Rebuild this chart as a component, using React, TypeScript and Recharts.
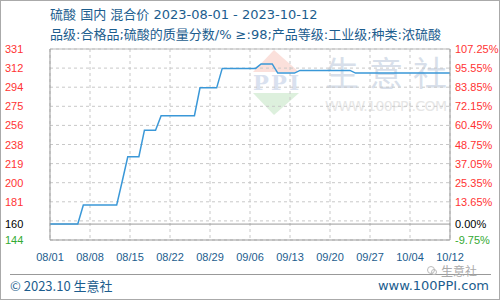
import React from 'react';
import { LineChart, Line, XAxis, YAxis, CartesianGrid, ReferenceLine } from 'recharts';

// day index from 2023-08-01 (0) to 2023-10-12 (72)
const prices = [
  160, 160, 160, 160, 160, 160,
  178.6, 178.6, 178.6, 178.6, 178.6, 178.6, 178.6,
  202,
  226, 226, 226,
  252, 252, 252,
  266.3, 266.3, 266.3, 266.3, 266.3, 266.3, 266.3,
  293.5, 293.5, 293.5, 293.5,
  312.6, 312.6, 312.6, 312.6, 312.6, 312.6, 312.6,
  317, 317, 317,
  308, 308, 308, 308,
  310.6, 310.6, 310.6, 310.6, 310.6, 310.6, 310.6, 310.6, 310.6, 310.6,
  308, 308, 308, 308, 308, 308, 308, 308, 308, 308, 308, 308, 308, 308, 308, 308, 308, 308,
];

const xTickDays = [0, 7.2, 14.4, 21.6, 28.8, 36, 43.2, 50.4, 57.6, 64.8, 72];
const xTickLabels = ['08/01', '08/08', '08/15', '08/22', '08/29', '09/06', '09/13', '09/20', '09/27', '10/04', '10/12'];

const yTicks = [144.4, 163.12, 181.84, 200.56, 219.28, 238, 256.72, 275.44, 294.16, 312.88, 331.6];
const leftTickLabels = ['144', '', '181', '200', '219', '238', '256', '275', '294', '312', '331'];
const rightTickLabels = ['-9.75%', '', '13.65%', '25.35%', '37.05%', '48.75%', '60.45%', '72.15%', '83.85%', '95.55%', '107.25%'];

const baseValue = 160;
const baseLabels = ['160', '0.00%'];

const data = prices.map((price, day) => ({ day, price }));

const BLUE = '#1c5d8e';
const tickFont = '"Liberation Sans", Arial, sans-serif';
const titleFont = '"DejaVu Sans", "Noto Sans CJK SC", sans-serif';

function labelColor(i: number) {
  return i === 0 ? '#33aa33' : '#ff3333';
}

function XTick(props: any) {
  const i = xTickDays.indexOf(props.payload.value);
  return (
    <text x={props.x} y={261} textAnchor="middle" fontSize={11} fontFamily={tickFont} fill={BLUE}>
      {xTickLabels[i]}
    </text>
  );
}

function LeftTick(props: any) {
  const i = yTicks.indexOf(props.payload.value);
  return (
    <text x={5} y={props.y + 4} textAnchor="start" fontSize={11} fontFamily={tickFont} fill={labelColor(i)}>
      {leftTickLabels[i]}
    </text>
  );
}

function RightTick(props: any) {
  const i = yTicks.indexOf(props.payload.value);
  return (
    <text x={455} y={props.y + 4} textAnchor="start" fontSize={11} fontFamily={tickFont} fill={labelColor(i)}>
      {rightTickLabels[i]}
    </text>
  );
}

function BaseLabel(props: any) {
  const y = props.viewBox.y + 4;
  return (
    <g>
      <text x={5} y={y} fontSize={11} fontFamily={tickFont} fill="#000">{baseLabels[0]}</text>
      <text x={455} y={y} fontSize={11} fontFamily={tickFont} fill="#000">{baseLabels[1]}</text>
    </g>
  );
}

function Watermark() {
  return (
    <svg width={500} height={300} style={{ position: 'absolute', left: 0, top: 0 }}>
      <polygon points="274,50 253,72 299,72" fill="#fbe0db" />
      <text x={276} y={90} textAnchor="middle" fontSize={21} fontWeight="bold" fontFamily="DejaVu Serif" fill="#d9e1ef" textLength={46}>PPI</text>
      <polygon points="253,93 299,93 274,115" fill="#ddf0dd" />
      <text x={325} y={86} fontSize={34} letterSpacing={10} fontFamily='"Noto Sans CJK SC"' fill="#d8dfea">生意社</text>
      <text x={325} y={111} fontSize={14} fontFamily='"DejaVu Sans"' fill="#e6e6e6" textLength={122}>WWW.100PPI.COM</text>
    </svg>
  );
}

export default function App() {
  return (
    <div style={{ position: 'absolute', left: 0, top: 0, width: 500, height: 300, background: '#fff', overflow: 'hidden' }}>
      <Watermark />
      <div style={{ position: 'absolute', left: 0, top: 0 }}>
        <LineChart width={500} height={300} data={data} margin={{ top: 49, right: 0, left: 0, bottom: 40 }}>
          <CartesianGrid yAxisId="l" stroke="#c8c8c8" strokeDasharray="3 3" />
          <XAxis
            dataKey="day"
            type="number"
            domain={[0, 72]}
            ticks={xTickDays}
            height={20}
            tick={<XTick />}
            tickLine={false}
            axisLine={{ stroke: '#999' }}
            interval={0}
          />
          <YAxis
            yAxisId="l"
            type="number"
            domain={[144.4, 331.6]}
            ticks={yTicks}
            width={50}
            tick={<LeftTick />}
            tickLine={false}
            axisLine={{ stroke: '#999' }}
            interval={0}
            allowDataOverflow
          />
          <YAxis
            yAxisId="r"
            orientation="right"
            type="number"
            domain={[144.4, 331.6]}
            ticks={yTicks}
            width={50}
            tick={<RightTick />}
            tickLine={false}
            axisLine={{ stroke: '#999' }}
            interval={0}
            allowDataOverflow
          />
          <ReferenceLine yAxisId="l" y={331.6} stroke="#bbb" />
          <ReferenceLine yAxisId="l" y={baseValue} stroke="#999" label={<BaseLabel />} />
          <Line
            yAxisId="l"
            type="linear"
            dataKey="price"
            stroke="#3a98d8"
            strokeWidth={1.5}
            dot={false}
            isAnimationActive={false}
          />
        </LineChart>
      </div>
      <div style={{ position: 'absolute', left: 50, top: 6, fontSize: 13, lineHeight: '18px', color: BLUE, fontFamily: titleFont, whiteSpace: 'nowrap' }}>
        硫酸 国内 混合价 2023-08-01 - 2023-10-12
      </div>
      <div style={{ position: 'absolute', left: 50, top: 26, fontSize: 13, lineHeight: '18px', color: BLUE, fontFamily: titleFont, whiteSpace: 'nowrap' }}>
        品级:合格品;硫酸的质量分数/% ≥:98;产品等级:工业级;种类:浓硫酸
      </div>
      <div style={{ position: 'absolute', left: 10, top: 274, width: 481, height: 1, background: '#999' }} />
      <svg width={12} height={12} style={{ position: 'absolute', left: 426, top: 265 }}>
        <circle cx={5} cy={5} r={3.5} fill="none" stroke="#bbb" strokeWidth={1} />
        <circle cx={8} cy={7} r={2.5} fill="none" stroke="#bbb" strokeWidth={1} />
      </svg>
      <div style={{ position: 'absolute', left: 441, top: 264, fontSize: 12, lineHeight: '14px', color: '#aaa', fontFamily: '"Noto Sans CJK SC", sans-serif' }}>
        生意社
      </div>
      <div style={{ position: 'absolute', left: 10, top: 277, fontSize: 13, lineHeight: '17px', color: BLUE, fontFamily: '"Noto Sans CJK SC", sans-serif', whiteSpace: 'nowrap' }}>
        © 2023.10 生意社
      </div>
      <div style={{ position: 'absolute', right: 11, top: 277, fontSize: 13, lineHeight: '17px', color: BLUE, fontFamily: '"DejaVu Sans", sans-serif', whiteSpace: 'nowrap' }}>
        www.100PPI.com
      </div>
      <div style={{ position: 'absolute', left: 0, top: 0, width: 500, height: 300, border: '1px solid #aaa', boxSizing: 'border-box', pointerEvents: 'none' }} />
    </div>
  );
}
